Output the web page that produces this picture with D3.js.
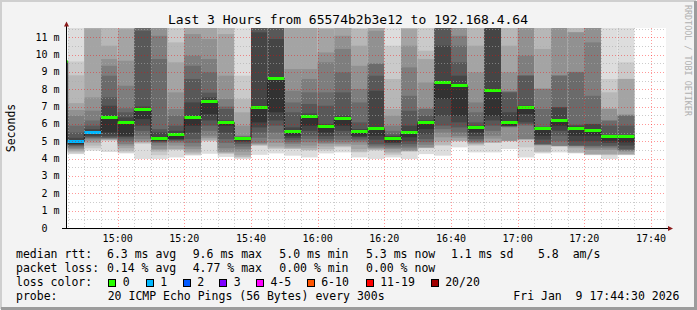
<!DOCTYPE html>
<html lang="en">
<head>
<meta charset="UTF-8">
<title>Last 3 Hours from 65574b2b3e12 to 192.168.4.64</title>
<script src="https://d3js.org/d3.v7.min.js"></script>
<style>
  body { margin: 0; background: #fff; }
  svg text { font-family: 'DejaVu Sans Mono', monospace; fill: #000; }
</style>
</head>
<body>
<svg width="697" height="310"></svg>
<script>
// --- data ----------------------------------------------------------------
var day = "2026-01-09";
var startTime = "14:44:30", endTime = "17:44:30";

// end time of each 5 minute step (first one is only a sliver at the axis)
var barEnds = ["14:45", "14:50", "14:55", "15:00", "15:05", "15:10", "15:15",
  "15:20", "15:25", "15:30", "15:35", "15:40", "15:45", "15:50", "15:55",
  "16:00", "16:05", "16:10", "16:15", "16:20", "16:25", "16:30", "16:35",
  "16:40", "16:45", "16:50", "16:55", "17:00", "17:05", "17:10", "17:15",
  "17:20", "17:25", "17:30", "17:35"];

// median rtt per step, ms
var medians = [9.6, 5.03, 5.51, 6.38, 6.09, 6.86, 5.17, 5.42, 6.38, 7.34,
  6.13, 5.17, 6.95, 8.62, 5.61, 6.47, 5.86, 6.32, 5.61, 5.74, 5.17, 5.55,
  6.13, 8.39, 8.26, 5.80, 7.93, 6.13, 6.95, 5.74, 6.24, 5.74, 5.63, 5.28, 5.28];

// lost pings per step (of 20)
var losses = [0, 1, 1, 0, 0, 0, 0, 0, 0, 0, 0, 0, 0, 0, 0, 0, 0, 0, 0, 0,
  0, 0, 0, 0, 0, 0, 0, 0, 0, 0, 0, 0, 0, 0, 0];

// sorted ping rtts per step, ms (values above the top are off the chart)
var pings = [
  null,
  [4.26,4.3,4.4,4.46,4.55,4.6,4.7,4.75,4.8,4.84,5.05,5.2,5.5,5.9,6.47,6.8,7.2,8.8,9.6,12],
  [4.46,4.6,4.75,4.9,5.03,5.13,5.2,5.23,5.3,5.4,5.54,5.7,5.9,6.2,6.76,7.53,11.5,12,12,12],
  [4.38,5.03,5.06,5.09,5.12,5.15,5.18,5.22,5.3,5.51,6.45,7.05,7.53,8.78,9.35,9.74,10.51,11.6,12,12],
  [4.3,4.36,4.45,4.6,4.75,4.84,5.0,5.15,5.25,5.32,6.12,6.38,6.67,6.9,8.2,9.64,11.47,12,12,12],
  [3.98,4.84,4.9,4.95,5.0,5.13,5.32,5.6,5.9,6.28,6.9,7.0,11.37,12,12,12,12,12,12,12],
  [3.98,4.2,4.4,4.5,4.55,4.75,4.9,4.95,5.0,5.03,5.2,5.51,5.7,9.74,11.08,12,12,12,12,12],
  [4.07,4.5,4.52,4.55,4.75,4.9,5.0,5.05,5.1,5.13,5.45,5.6,5.9,6.47,6.86,7.82,9.55,10.7,11.66,12],
  [4.18,4.22,4.3,4.4,4.55,4.7,4.9,5.13,5.5,5.9,6.45,7.24,8.59,9.35,9.93,11.18,12,12,12,12],
  [4.28,5.0,5.03,5.1,5.2,5.32,5.6,5.9,6.2,6.57,7.4,7.53,7.8,8.97,9.74,10.89,12,12,12,12],
  [4.1,4.28,4.3,4.35,4.4,4.6,4.9,5.13,5.5,5.9,6.17,6.2,6.86,7.0,7.43,8.78,11.18,12,12,12],
  [3.98,4.05,4.1,4.2,4.4,4.55,4.7,4.85,4.95,5.03,5.2,5.22,5.25,5.28,5.32,5.9,6.67,7.43,8.78,12],
  [4.22,4.74,4.76,4.8,4.85,4.9,5.2,5.51,5.8,6.09,7.0,11.28,12,12,12,12,12,12,12,12],
  [4.3,4.55,4.6,4.7,4.9,5.13,5.5,5.9,6.2,6.67,8.65,10.89,12,12,12,12,12,12,12,12],
  [4.17,4.55,4.57,4.6,4.7,4.85,4.94,5.1,5.2,5.32,5.65,5.8,6.67,7.24,7.91,9.16,12,12,12,12],
  [4.07,4.46,4.5,4.6,4.75,4.94,5.13,5.32,5.6,5.9,6.5,6.6,7.15,7.82,8.59,9.16,12,12,12,12],
  [4.3,4.46,4.55,4.7,4.84,4.9,5.0,5.13,5.3,5.51,5.9,6.0,7.05,7.82,9.55,10.12,11.47,12,12,12],
  [4.36,4.65,4.7,4.75,4.85,4.94,5.1,5.32,5.6,5.9,6.35,6.47,7.82,8.97,10.32,11.08,12,12,12,12],
  [4.07,4.36,4.4,4.55,4.8,4.94,5.05,5.15,5.25,5.32,5.65,5.7,6.09,7.24,8.01,9.35,10.51,11.47,12,12],
  [3.98,4.46,4.5,4.55,4.6,4.65,4.75,4.84,5.1,5.32,5.78,7.91,8.78,9.45,9.5,11.37,12,12,12,12],
  [4.07,4.2,4.3,4.4,4.55,4.6,4.7,4.8,4.9,4.94,5.2,5.3,5.4,5.6,5.9,6.47,6.86,8.59,10.51,12],
  [3.98,4.4,4.42,4.44,4.46,4.6,4.7,4.84,5.0,5.23,5.6,5.9,6.76,7.62,9.26,10.51,11.47,12,12,12],
  [4.26,4.6,4.62,4.64,4.65,4.8,4.95,5.13,5.4,5.7,6.17,6.2,6.47,6.86,6.9,8.39,9.74,10.22,12,12],
  [4.17,4.74,4.8,5.0,5.23,5.5,5.7,5.9,6.47,7.43,8.45,10.51,12,12,12,12,12,12,12,12],
  [4.65,5.0,5.01,5.03,5.2,5.3,5.51,5.8,6.09,6.47,8.3,8.78,9.55,10.51,11.08,12,12,12,12,12],
  [4.36,4.74,4.8,4.85,4.9,4.95,5.03,5.13,5.3,5.51,5.82,5.9,6.09,6.67,7.24,8.97,10.51,12,12,12],
  [4.36,4.9,4.92,4.94,5.15,5.32,5.6,5.9,6.2,6.47,7.95,12,12,12,12,12,12,12,12,12],
  [4.55,5.0,5.01,5.02,5.03,5.8,5.84,5.86,5.88,5.9,6.17,6.67,7.82,7.85,7.9,8.97,10.51,12,12,12],
  [4.07,4.65,5.1,5.11,5.12,5.13,5.9,6.0,6.09,6.57,7.0,7.05,8.78,8.8,9.93,12,12,12,12,12],
  [4.3,4.36,4.4,4.75,4.78,4.8,4.82,4.84,5.1,5.32,5.78,5.8,5.85,6.86,8.01,8.05,10.32,12,12,12],
  [4.36,4.7,4.71,4.72,4.73,4.74,5.0,5.32,5.6,5.9,6.28,6.95,6.96,8.78,8.8,12,12,12,12,12],
  [4.3,4.33,4.36,4.6,4.7,4.72,4.74,4.76,5.0,5.32,5.78,5.9,5.95,8.97,9.0,11.28,11.3,12,12,12],
  [4.2,4.22,4.24,4.26,4.5,4.6,4.7,4.74,5.0,5.32,5.66,5.99,6.0,7.62,10.7,12,12,12,12,12],
  [3.98,4.2,4.22,4.26,4.5,4.6,4.7,4.74,4.9,5.03,5.3,5.35,5.9,6.19,6.2,6.86,6.9,7.82,8.59,12],
  [4.2,4.22,4.24,4.26,4.4,4.45,4.5,4.55,4.75,4.94,5.3,5.35,5.9,6.47,6.5,6.55,8.59,8.6,9.55,12]
];

var yTicks = [0, 1, 2, 3, 4, 5, 6, 7, 8, 9, 10, 11];
var lossLabels = ["0", "1", "2", "3", "4-5", "6-10", "11-19", "20/20"];
var lossColors = ["#26ff00", "#00b8ff", "#0059ff", "#7e00ff", "#ff00ff", "#ff5500", "#ff0000", "#a10000"];
var lossBins = [0, 1, 2, 3, 5, 10, 19, 20]; // upper bound of each loss class

var statRows = [
  ["median rtt:", "6.3 ms avg", "9.6 ms max", "5.0 ms min", "5.3 ms now", "1.1 ms sd", "5.8", "am/s"],
  ["packet loss:", "0.14 % avg", "4.77 % max", "0.00 % min", "0.00 % now"]
];
var probeText = "20 ICMP Echo Pings (56 Bytes) every 300s";
var stampText = "Fri Jan  9 17:44:30 2026";
var titleText = "Last 3 Hours from 65574b2b3e12 to 192.168.4.64";

// --- chart ----------------------------------------------------------------
var W = 697, H = 310;
var plotL = 66, plotR = 666, plotT = 28, plotB = 228;
var svg = d3.select("svg");
var parseTime = d3.timeParse("%Y-%m-%d %H:%M:%S");
var fmt = d3.timeFormat("%H:%M");

var x = d3.scaleTime()
  .domain([parseTime(day + " " + startTime), parseTime(day + " " + endTime)])
  .range([plotL, plotR]);
var y = d3.scaleLinear().domain([0, 11.53]).range([plotB, plotT]);

// background and frame
svg.append("rect").attr("width", W).attr("height", H).attr("fill", "#f3f3f3");
svg.append("path").attr("d", "M1,309V1H696").attr("fill", "none")
  .attr("stroke", "#cfcfcf").attr("stroke-width", 2);
svg.append("path").attr("d", "M1,308.5H695.5V1").attr("fill", "none")
  .attr("stroke", "#9c9c9c").attr("stroke-width", 3);
svg.append("rect").attr("x", plotL).attr("y", plotT)
  .attr("width", plotR - plotL).attr("height", plotB - plotT).attr("fill", "#fff");

svg.append("clipPath").attr("id", "plotclip").append("rect")
  .attr("x", plotL).attr("y", plotT).attr("width", plotR - plotL).attr("height", plotB - plotT);

var steps = barEnds.map(function(t, i) {
  var end = parseTime(day + " " + t + ":00");
  return {
    start: d3.timeMinute.offset(end, -5),
    end: end,
    median: medians[i],
    loss: losses[i],
    pings: pings[i]
  };
});

var plot = svg.append("g").attr("clip-path", "url(#plotclip)");

// smoke: band k spans ping k .. ping (n-1-k), darker towards the middle
var half = 10;
steps.forEach(function(s) {
  if (!s.pings) return;
  var n = s.pings.length;
  for (var k = 0; k < half; k++) {
    var g = Math.floor(190 / half * (half - (k + 1))) + 50;
    var lo = s.pings[k], hi = s.pings[n - 1 - k];
    plot.append("rect")
      .attr("x", x(s.start))
      .attr("width", x(s.end) - x(s.start))
      .attr("y", y(hi))
      .attr("height", Math.max(0, y(lo) - y(hi)))
      .attr("fill", d3.rgb(g, g, g));
  }
});

// median step line
var stepPts = steps.map(function(s) { return [s.start, s.median]; });
stepPts.push([steps[steps.length - 1].end, steps[steps.length - 1].median]);
plot.append("path")
  .attr("d", d3.line().curve(d3.curveStepAfter)
    .x(function(d) { return x(d[0]); })
    .y(function(d) { return Math.round(y(d[1])) + 0.5; })(stepPts))
  .attr("fill", "none").attr("stroke", "#202020").attr("stroke-width", 1);

// median marks coloured by loss
function lossIndex(l) {
  for (var i = 0; i < lossBins.length; i++) if (l <= lossBins[i]) return i;
  return lossBins.length - 1;
}
plot.selectAll("rect.med").data(steps).enter().append("rect")
  .attr("class", "med")
  .attr("x", function(d) { return x(d.start); })
  .attr("width", function(d) { return x(d.end) - x(d.start); })
  .attr("y", function(d) { return Math.round(y(d.median)) - 1; })
  .attr("height", 3)
  .attr("fill", function(d) { return lossColors[lossIndex(d.loss)]; });

// grid
var grid = svg.append("g");
var minorT = d3.timeMinute.every(5).range(x.domain()[0], x.domain()[1]);
minorT.forEach(function(t) {
  var major = t.getMinutes() % 20 === 0;
  var xx = Math.round(x(t)) + 0.5;
  grid.append("line").attr("x1", xx).attr("x2", xx).attr("y1", plotT).attr("y2", plotB)
    .attr("stroke", major ? "rgba(255,0,0,0.4)" : "rgba(170,170,170,0.6)")
    .attr("stroke-dasharray", "1,2");
});
d3.range(1, 24).forEach(function(h) {
  var v = h / 2;
  var major = h % 2 === 0;
  var yy = Math.round(y(v)) + 0.5;
  grid.append("line").attr("x1", plotL).attr("x2", plotR).attr("y1", yy).attr("y2", yy)
    .attr("stroke", major ? "rgba(255,0,0,0.4)" : "rgba(170,170,170,0.6)")
    .attr("stroke-dasharray", "1,2");
});

// axes
svg.append("line").attr("x1", plotL + 0.5).attr("x2", plotL + 0.5).attr("y1", plotB + 1).attr("y2", 24)
  .attr("stroke", "#000");
svg.append("line").attr("x1", 62).attr("x2", 670).attr("y1", plotB + 0.5).attr("y2", plotB + 0.5)
  .attr("stroke", "#000");
svg.append("path").attr("d", "M" + (plotL - 2) + ",26.5L" + (plotL + 3) + ",26.5L" + (plotL + 0.5) + ",21.5Z")
  .attr("fill", "#8b1a1a");
svg.append("path").attr("d", "M668,226L668,231L673,228.5Z").attr("fill", "#8b1a1a");

// tick labels
yTicks.forEach(function(v) {
  var yy = y(v) + 3.5;
  svg.append("text").attr("x", 47.5).attr("y", yy).attr("text-anchor", "end")
    .attr("font-size", "10px").text(v);
  if (v !== 0) svg.append("text").attr("x", 53.5).attr("y", yy).attr("font-size", "10px").text("m");
});
x.ticks(d3.timeMinute.every(20)).forEach(function(t) {
  svg.append("text").attr("x", x(t)).attr("y", 241.5).attr("text-anchor", "middle")
    .attr("font-size", "10px").text(fmt(t));
});

// titles
svg.append("text").attr("x", 348).attr("y", 23.5).attr("text-anchor", "middle")
  .attr("font-size", "13px").text(titleText);
svg.append("text").attr("transform", "translate(15,128) rotate(-90)")
  .attr("text-anchor", "middle").attr("font-size", "11.5px").text("Seconds");
svg.append("text").attr("transform", "translate(685,5) rotate(90)")
  .attr("font-size", "8.4px").style("fill", "#b0b0b0").text("RRDTOOL / TOBI OETIKER");

// legend
var colX = [16, 107, 192.7, 279.3, 366, 451, 538, 572.7];
statRows.forEach(function(row, r) {
  row.forEach(function(txt, c) {
    svg.append("text").attr("x", colX[c]).attr("y", 258 + r * 14)
      .attr("font-size", "11.5px").attr("xml:space", "preserve").text(txt);
  });
});
svg.append("text").attr("x", 16).attr("y", 286).attr("font-size", "11.5px").text("loss color:");
var boxX = [108.3, 145.7, 182.7, 219.3, 256, 306.7, 365.7, 430.7];
lossLabels.forEach(function(lbl, i) {
  svg.append("rect").attr("x", Math.round(boxX[i]) + 0.5).attr("y", 279.5)
    .attr("width", 7).attr("height", 7)
    .attr("fill", lossColors[i]).attr("stroke", "#000");
  svg.append("text").attr("x", boxX[i] + 14.5).attr("y", 286)
    .attr("font-size", "11.5px").text(lbl);
});
svg.append("text").attr("x", 16).attr("y", 300).attr("font-size", "11.5px").text("probe:");
svg.append("text").attr("x", 107.7).attr("y", 300).attr("font-size", "11.5px").text(probeText);
svg.append("text").attr("x", 513.3).attr("y", 300).attr("font-size", "11.5px")
  .attr("xml:space", "preserve").style("white-space", "pre").text(stampText);
</script>
</body>
</html>
